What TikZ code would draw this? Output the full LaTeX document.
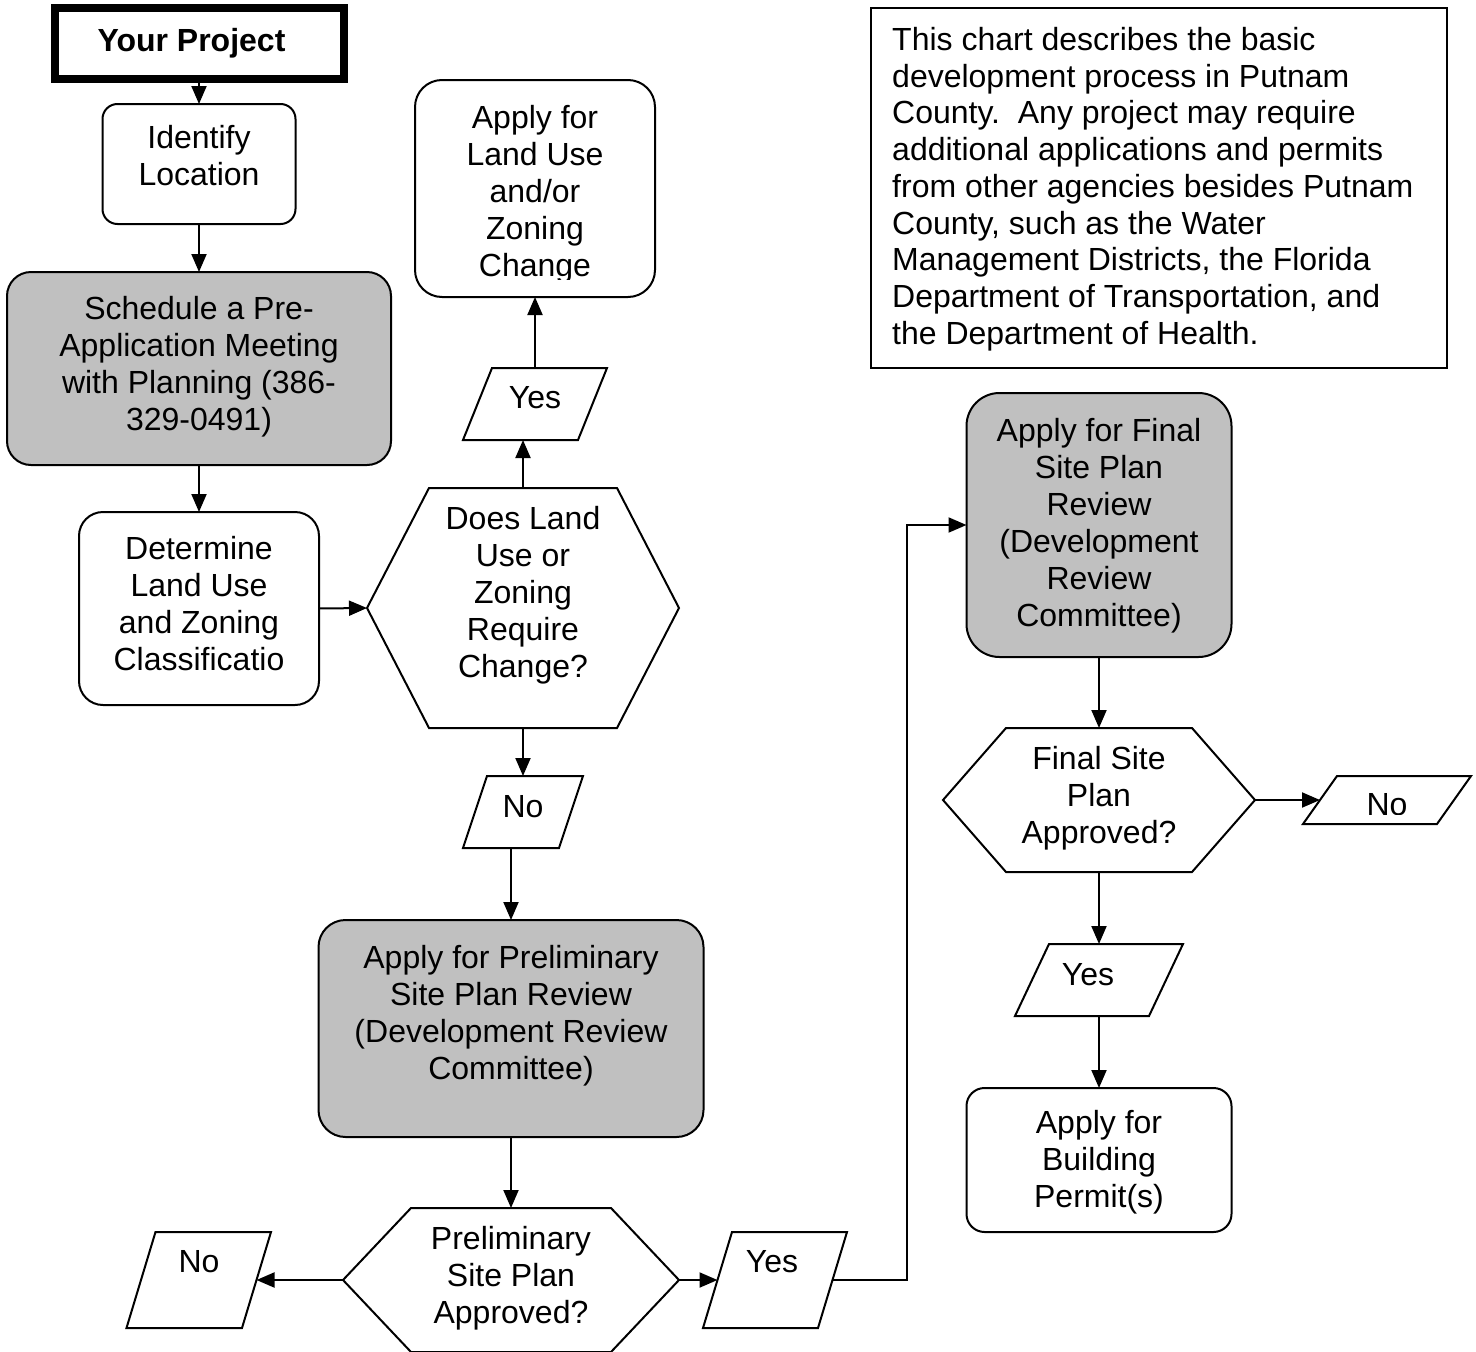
\documentclass[tikz,border=0pt]{standalone}
\usepackage{fontspec}
\setmainfont{Liberation Sans}
\usetikzlibrary{arrows.meta}
\definecolor{boxgray}{HTML}{C0C0C0}
\begin{document}
\begin{tikzpicture}[x=1pt,y=-1pt,
  outline/.style={draw=black, line width=2pt},
  frame/.style={inner sep=0pt, outer sep=0pt},
  rbox/.style={frame, outline, fill=white},
  gbox/.style={frame, outline, fill=boxgray},
  txt/.style={inner sep=0pt, align=center, font=\fontsize{32}{37}\selectfont},
  arr/.style={line width=2pt, -{Triangle[length=18pt,width=15pt]}},
]
\useasboundingbox (0,0) rectangle (1476,1352);

% start
\node[frame, draw=black, line width=8pt, minimum width=289pt, minimum height=71pt] (proj) at (199,43.5) {};
\node[txt, font=\fontsize{32}{37}\selectfont\bfseries] (projt) at (191.5,43) {Your Project};

% identify
\node[rbox, rounded corners=15pt, minimum width=193pt, minimum height=120pt] (ident) at (199,164) {};
\node[txt] (identt) at (199,156) {Identify\\Location};

% schedule
\node[gbox, rounded corners=24pt, minimum width=384pt, minimum height=193pt] (sched) at (199,368.5) {};
\node[txt] (schedt) at (199,366.5) {Schedule a Pre-\\Application Meeting\\with Planning (386-\\329-0491)};

% determine
\node[rbox, rounded corners=24pt, minimum width=240pt, minimum height=193pt] (det) at (199,608.5) {};
\node[txt] (dett) at (199,603.5) {Determine\\Land Use\\and Zoning\\Classificatio};

% hexagon 1
\node[frame, minimum width=312pt, minimum height=240pt] (hex1) at (523,608) {};
\draw[outline, fill=white] ([xshift=62pt]hex1.north west) -- ([xshift=-62pt]hex1.north east) -- (hex1.east)
  -- ([xshift=-62pt]hex1.south east) -- ([xshift=62pt]hex1.south west) -- (hex1.west) -- cycle;
\node[txt] (hex1t) at (523,595) {Does Land\\Use or\\Zoning\\Require\\Change?};

% yes 1
\node[frame, minimum width=115pt, minimum height=72pt] (yes1) at (535,404) {};
\draw[outline] ([xshift=14.5pt]yes1.north west) -- ([xshift=14.5pt]yes1.north east)
  -- ([xshift=-14.5pt]yes1.south east) -- ([xshift=-14.5pt]yes1.south west) -- cycle;
\node[txt] (yes1t) at (535,398) {Yes};

% land use change
\node[rbox, rounded corners=27pt, minimum width=240pt, minimum height=217pt] (land) at (535,188.5) {};
\begin{scope}
\clip (415,80) rectangle (655,279);
\node[txt] (landt) at (535,194.5) {Apply for\\Land Use\\and/or\\Zoning\\Change};
\end{scope}

% no 1
\node[frame, minimum width=96pt, minimum height=72pt] (no1) at (523,812) {};
\draw[outline] ([xshift=12pt]no1.north west) -- ([xshift=12pt]no1.north east)
  -- ([xshift=-12pt]no1.south east) -- ([xshift=-12pt]no1.south west) -- cycle;
\node[txt] (no1t) at (523,807) {No};

% preliminary
\node[gbox, rounded corners=27pt, minimum width=385pt, minimum height=217pt] (prelim) at (511,1028.5) {};
\node[txt] (prelimt) at (511,1016) {Apply for Preliminary\\Site Plan Review\\(Development Review\\Committee)};

% hexagon 2
\node[frame, minimum width=336pt, minimum height=144pt] (hex2) at (511,1280) {};
\draw[outline, fill=white] ([xshift=68pt]hex2.north west) -- ([xshift=-68pt]hex2.north east) -- (hex2.east)
  -- ([xshift=-68pt]hex2.south east) -- ([xshift=68pt]hex2.south west) -- (hex2.west) -- cycle;
\node[txt] (hex2t) at (511,1278.5) {Preliminary\\Site Plan\\Approved?};

% no 2
\node[frame, minimum width=115.5pt, minimum height=96pt] (no2) at (198.75,1280) {};
\draw[outline] ([xshift=14.5pt]no2.north west) -- ([xshift=14.5pt]no2.north east)
  -- ([xshift=-14.5pt]no2.south east) -- ([xshift=-14.5pt]no2.south west) -- cycle;
\node[txt] (no2t) at (199,1262) {No};

% yes 2
\node[frame, minimum width=115pt, minimum height=96pt] (yes2) at (775,1280) {};
\draw[outline] ([xshift=14.5pt]yes2.north west) -- ([xshift=14.5pt]yes2.north east)
  -- ([xshift=-14.5pt]yes2.south east) -- ([xshift=-14.5pt]yes2.south west) -- cycle;
\node[txt] (yes2t) at (772,1262) {Yes};

% final
\node[gbox, rounded corners=33pt, minimum width=265pt, minimum height=264pt] (final) at (1099,525) {};
\node[txt] (finalt) at (1099,525.5) {Apply for Final\\Site Plan\\Review\\(Development\\Review\\Committee)};

% hexagon 3
\node[frame, minimum width=312pt, minimum height=144pt] (hex3) at (1099,800) {};
\draw[outline, fill=white] ([xshift=63pt]hex3.north west) -- ([xshift=-63pt]hex3.north east) -- (hex3.east)
  -- ([xshift=-63pt]hex3.south east) -- ([xshift=63pt]hex3.south west) -- (hex3.west) -- cycle;
\node[txt] (hex3t) at (1099,798.5) {Final Site\\Plan\\Approved?};

% no 3
\node[frame, minimum width=134pt, minimum height=48pt] (no3) at (1387,800) {};
\draw[outline] ([xshift=17pt]no3.north west) -- ([xshift=17pt]no3.north east)
  -- ([xshift=-17pt]no3.south east) -- ([xshift=-17pt]no3.south west) -- cycle;
\begin{scope}
\clip (1320,776) rectangle (1460,814);
\node[txt] (no3t) at (1387,805) {No};
\end{scope}

% yes 3
\node[frame, minimum width=134pt, minimum height=72pt] (yes3) at (1099,980) {};
\draw[outline] ([xshift=17pt]yes3.north west) -- ([xshift=17pt]yes3.north east)
  -- ([xshift=-17pt]yes3.south east) -- ([xshift=-17pt]yes3.south west) -- cycle;
\node[txt] (yes3t) at (1088,975) {Yes};

% building
\node[rbox, rounded corners=18pt, minimum width=265pt, minimum height=144pt] (build) at (1099,1160) {};
\node[txt] (buildt) at (1099,1162.5) {Apply for\\Building\\Permit(s)};

% note
\node[frame, outline, minimum width=576pt, minimum height=360pt] (note) at (1159,188) {};
\node[inner sep=0pt, anchor=north west, align=left, font=\fontsize{32}{36.75}\selectfont] (notet) at (892,27)
 {This chart describes the basic\\development process in Putnam\\County.\ \ Any project may require\\additional applications and permits\\from other agencies besides Putnam\\County, such as the Water\\Management Districts, the Florida\\Department of Transportation, and\\the Department of Health.};

% connectors
\coordinate (trunk) at (907,0);
\draw[arr] (proj.south) -- (ident.north);
\draw[arr] (ident.south) -- (sched.north);
\draw[arr] (sched.south) -- (det.north);
\draw[arr] (det.east) -- (hex1.west);
\draw[arr] (hex1.north) -- (hex1.north |- yes1.south);
\draw[arr] (yes1.north) -- (land.south);
\draw[arr] (hex1.south) -- (no1.north);
\draw[arr] (prelim.north |- no1.south) -- (prelim.north);
\draw[arr] (prelim.south) -- (hex2.north);
\draw[arr] (hex2.west) -- (no2.east);
\draw[arr] (hex2.east) -- (yes2.west);
\draw[arr] (yes2.east) -| (trunk |- final.west) -- (final.west);
\draw[arr] (final.south) -- (hex3.north);
\draw[arr] (hex3.east) -- (no3.west);
\draw[arr] (hex3.south) -- (yes3.north);
\draw[arr] (yes3.south) -- (build.north);
\end{tikzpicture}
\end{document}
